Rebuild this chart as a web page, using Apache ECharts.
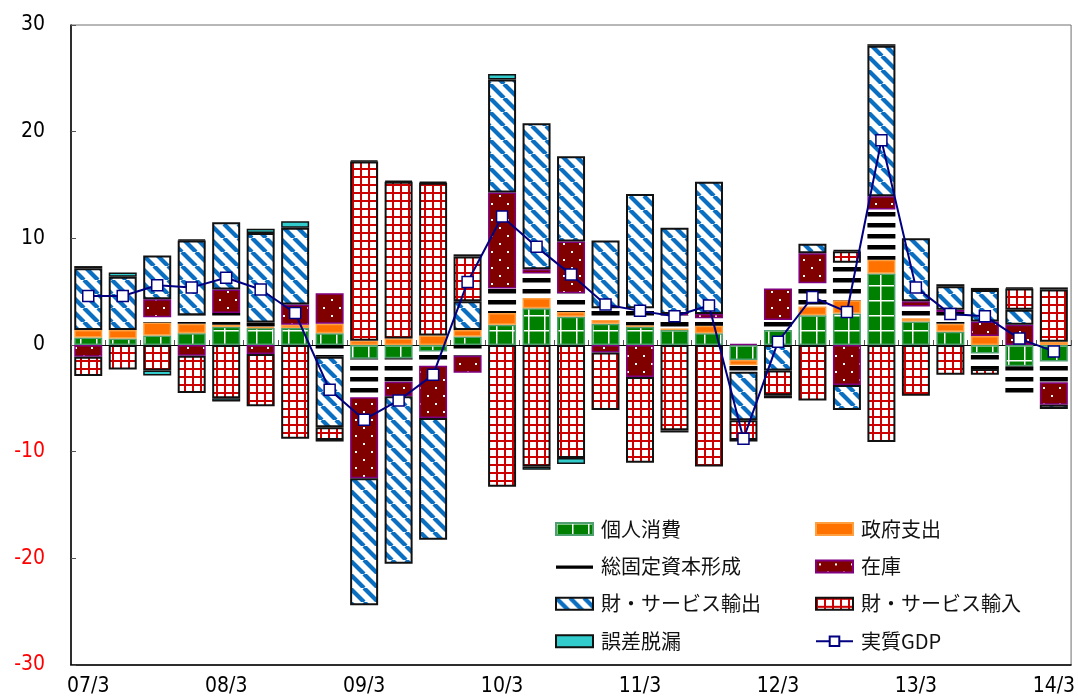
<!DOCTYPE html>
<html>
<head>
<meta charset="utf-8">
<script src="https://cdn.jsdelivr.net/npm/echarts@6/dist/echarts.min.js"></script>
<style>
html, body { margin: 0; padding: 0; background: #fff; }
#chart { width: 1078px; height: 698px; }
</style>
</head>
<body>
<div id="chart"></div>
<script>
// Quarters (year/month of quarter end)
const quarters = [
  '07/3','07/6','07/9','07/12','08/3','08/6','08/9','08/12',
  '09/3','09/6','09/9','09/12','10/3','10/6','10/9','10/12',
  '11/3','11/6','11/9','11/12','12/3','12/6','12/9','12/12',
  '13/3','13/6','13/9','13/12','14/3'
];

// Contributions to real GDP growth (percentage points)
const consumption = [0.7, 0.6, 0.9, 1.1, 1.7, 1.6, 1.6, 1.1, -1.3, -1.25, -0.6, 0.8, 1.9, 3.45, 2.65, 2.0, 1.7, 1.4, 1.1, -1.4, 1.4, 2.8, 2.95, 6.7, 2.2, 1.25, -0.8, -2.0, -1.55];
const government  = [0.7, 0.8, 1.2, 0.9, 0.2, 0.1, 0.3, 0.9, 0.4, 0.6, 0.9, 0.6, 1.1, 0.95, 0.45, 0.35, 0.15, 0.15, 0.7, -0.5, 0, 0.8, 1.25, 1.3, 0.3, 0.75, 0.85, 0, 0.3];
const investment  = [0, 0, 0.5, 0.8, 1.1, 0.4, 0, -1.1, -3.6, -2.2, -1.35, -1.0, 2.3, 2.3, 1.75, 1.1, 1.6, 1.25, 0.7, -0.6, 0.95, 2.2, 3.5, 4.7, 1.1, 1.1, -1.45, -2.85, -1.95];
const inventory   = [-1.1, 0, 1.7, -1.0, 2.2, -0.85, 1.9, 2.85, -7.6, -1.35, -4.9, -1.6, 9.0, 0.4, 4.85, -0.7, -3.0, 0.1, 0.4, 0.1, 2.95, 2.8, -3.75, 1.25, 0.5, 0.2, 1.35, 1.9, -2.1];
const exportsGS   = [5.8, 5.0, 4.1, 7.0, 6.3, 8.4, 7.2, -6.6, -11.9, -15.7, -11.4, 2.7, 10.6, 13.7, 8.0, 6.35, 10.7, 8.1, 12.4, -4.55, -2.4, 0.9, -2.35, 14.1, 5.9, 2.2, 2.95, 1.4, -0.4];
const importsGS   = [-1.8, -2.3, -2.4, -3.5, -5.0, -4.9, -8.8, -1.2, 16.8, 14.7, 14.3, 4.2, -13.3, -11.4, -10.6, -5.4, -8.05, -8.0, -11.4, -1.85, -2.3, -5.2, 1.1, -9.1, -4.75, -2.8, -0.55, 2.0, 4.9];
const discrepancy = [0.2, 0.4, -0.45, 0.1, -0.3, 0.4, 0.6, -0.15, 0.1, 0.1, 0.1, 0.2, 0.5, -0.3, -0.55, 0, 0, -0.2, 0, -0.15, -0.3, 0, 0.1, 0.15, 0, 0.2, 0.2, 0.1, 0.2];
const realGDP     = [4.6, 4.6, 5.6, 5.4, 6.3, 5.2, 3.0, -4.2, -7.0, -5.2, -2.8, 5.9, 12.05, 9.2, 6.6, 3.8, 3.2, 2.7, 3.7, -8.8, 0.3, 4.5, 3.1, 19.2, 5.4, 2.9, 2.7, 0.6, -0.6];

const yTicks = { min: -30, max: 30, step: 10 };

// Small canvas tiles used as fill patterns
function tile(w, h, draw) {
  const c = document.createElement('canvas');
  c.width = w; c.height = h;
  draw(c.getContext('2d'), w, h);
  return c;
}
const greenTile = tile(16, 15, (g, w, h) => {
  g.fillStyle = '#008000'; g.fillRect(0, 0, w, h);
  g.fillStyle = '#ffffff'; g.fillRect(0, 0, w, 1.5); g.fillRect(0, 0, 1.5, h);
});
const stripeTile = tile(4, 11, (g, w) => {
  g.fillStyle = '#000000'; g.fillRect(0, 3, w, 4.5);
});
const dotTile = tile(16, 16, (g, w, h) => {
  g.fillStyle = '#800000'; g.fillRect(0, 0, w, h);
  g.fillStyle = '#ffffff'; g.fillRect(3, 3, 2, 2); g.fillRect(11, 11, 2, 2);
});
const diagTile = tile(14, 14, (g, w, h) => {
  g.fillStyle = '#ffffff'; g.fillRect(0, 0, w, h);
  g.strokeStyle = '#0b6fc1'; g.lineWidth = 4.2;
  [-14, 0, 14].forEach(k => { g.beginPath(); g.moveTo(k, 0); g.lineTo(k + 14, 14); g.stroke(); });
});
const gridTile = tile(8, 8, (g, w, h) => {
  g.fillStyle = '#ffffff'; g.fillRect(0, 0, w, h);
  g.fillStyle = '#cc0000'; g.fillRect(0, 0, w, 2); g.fillRect(0, 0, 2, h);
});
const pat = img => ({ image: img, repeat: 'repeat' });

const clean = arr => arr.map(v => (v === 0 ? null : v));

const barDefs = [
  { name: '個人消費', data: consumption, style: { color: pat(greenTile), borderColor: '#4fa06f', borderWidth: 1.5 } },
  { name: '政府支出', data: government, style: { color: '#ff7200', borderColor: '#ffa040', borderWidth: 1.5 } },
  { name: '総固定資本形成', data: investment, style: { color: pat(stripeTile), borderWidth: 0 } },
  { name: '在庫', data: inventory, style: { color: pat(dotTile), borderColor: '#800080', borderWidth: 1.5 } },
  { name: '財・サービス輸出', data: exportsGS, style: { color: pat(diagTile), borderColor: '#111111', borderWidth: 2 } },
  { name: '財・サービス輸入', data: importsGS, style: { color: pat(gridTile), borderColor: '#111111', borderWidth: 2 } },
  { name: '誤差脱漏', data: discrepancy, style: { color: '#33cccc', borderColor: '#111111', borderWidth: 1.5 } }
];

const series = barDefs.map(d => ({
  name: d.name,
  type: 'bar',
  stack: 'total',
  barWidth: 28,
  data: clean(d.data),
  itemStyle: d.style,
  emphasis: { disabled: true }
}));
series.push({
  name: '実質GDP',
  type: 'line',
  data: realGDP,
  z: 10,
  symbol: 'rect',
  symbolSize: 11,
  lineStyle: { color: '#000080', width: 2 },
  itemStyle: { color: '#ffffff', borderColor: '#000080', borderWidth: 1.5 },
  emphasis: { disabled: true }
});

const numFont = "'Liberation Sans Narrow', 'DejaVu Sans Condensed', sans-serif";
const jpFont = "'Noto Sans CJK JP', sans-serif";
const lineIcon = 'path://M0,5H40V8.5H0Z M0,0h0.01v0.01H0Z M0,12h0.01v0.01H0Z';

const legendBase = {
  orient: 'vertical',
  top: 519,
  padding: 0,
  itemWidth: 37,
  itemHeight: 12,
  itemGap: 17.4,
  selectedMode: false,
  textStyle: { fontFamily: jpFont, fontSize: 20, lineHeight: 20, color: '#111', padding: [0, 0, 0, 3] }
};

const chart = echarts.init(document.getElementById('chart'), null, { renderer: 'canvas' });
chart.setOption({
  animation: false,
  backgroundColor: '#ffffff',
  grid: { left: 71, right: 4, top: 25, bottom: 33, show: true, borderColor: '#707070', borderWidth: 1 },
  legend: [
    Object.assign({}, legendBase, {
      left: 555,
      data: [
        { name: '個人消費', icon: 'rect' },
        { name: '総固定資本形成', icon: lineIcon, itemStyle: { color: '#000000', borderWidth: 0 } },
        { name: '財・サービス輸出', icon: 'rect' },
        { name: '誤差脱漏', icon: 'rect' }
      ]
    }),
    Object.assign({}, legendBase, {
      left: 815,
      data: [
        { name: '政府支出', icon: 'rect' },
        { name: '在庫', icon: 'rect' },
        { name: '財・サービス輸入', icon: 'rect' },
        { name: '実質GDP' }
      ]
    })
  ],
  xAxis: [
    {
      type: 'category',
      data: quarters,
      position: 'bottom',
      axisLine: { onZero: false, lineStyle: { color: '#000', width: 1.5 } },
      axisTick: { show: false },
      axisLabel: { interval: 3, margin: 11, fontSize: 21, fontFamily: numFont, color: '#000' },
      splitLine: { show: false }
    },
    {
      type: 'category',
      data: quarters,
      position: 'bottom',
      axisLine: { onZero: true, lineStyle: { color: '#000', width: 1 } },
      axisTick: { show: true, inside: true, length: 5, interval: 0, lineStyle: { color: '#555' } },
      axisLabel: { show: false },
      splitLine: { show: false }
    }
  ],
  yAxis: {
    type: 'value',
    min: yTicks.min,
    max: yTicks.max,
    interval: yTicks.step,
    axisLine: { show: true, lineStyle: { color: '#000', width: 1.5 } },
    axisTick: { show: true, inside: true, length: 5, lineStyle: { color: '#555' } },
    splitLine: { show: false },
    axisLabel: {
      margin: 26,
      fontSize: 21,
      fontFamily: numFont,
      color: v => (Number(v) < 0 ? '#ff0000' : '#000000')
    }
  },
  series: series
});
</script>
</body>
</html>
